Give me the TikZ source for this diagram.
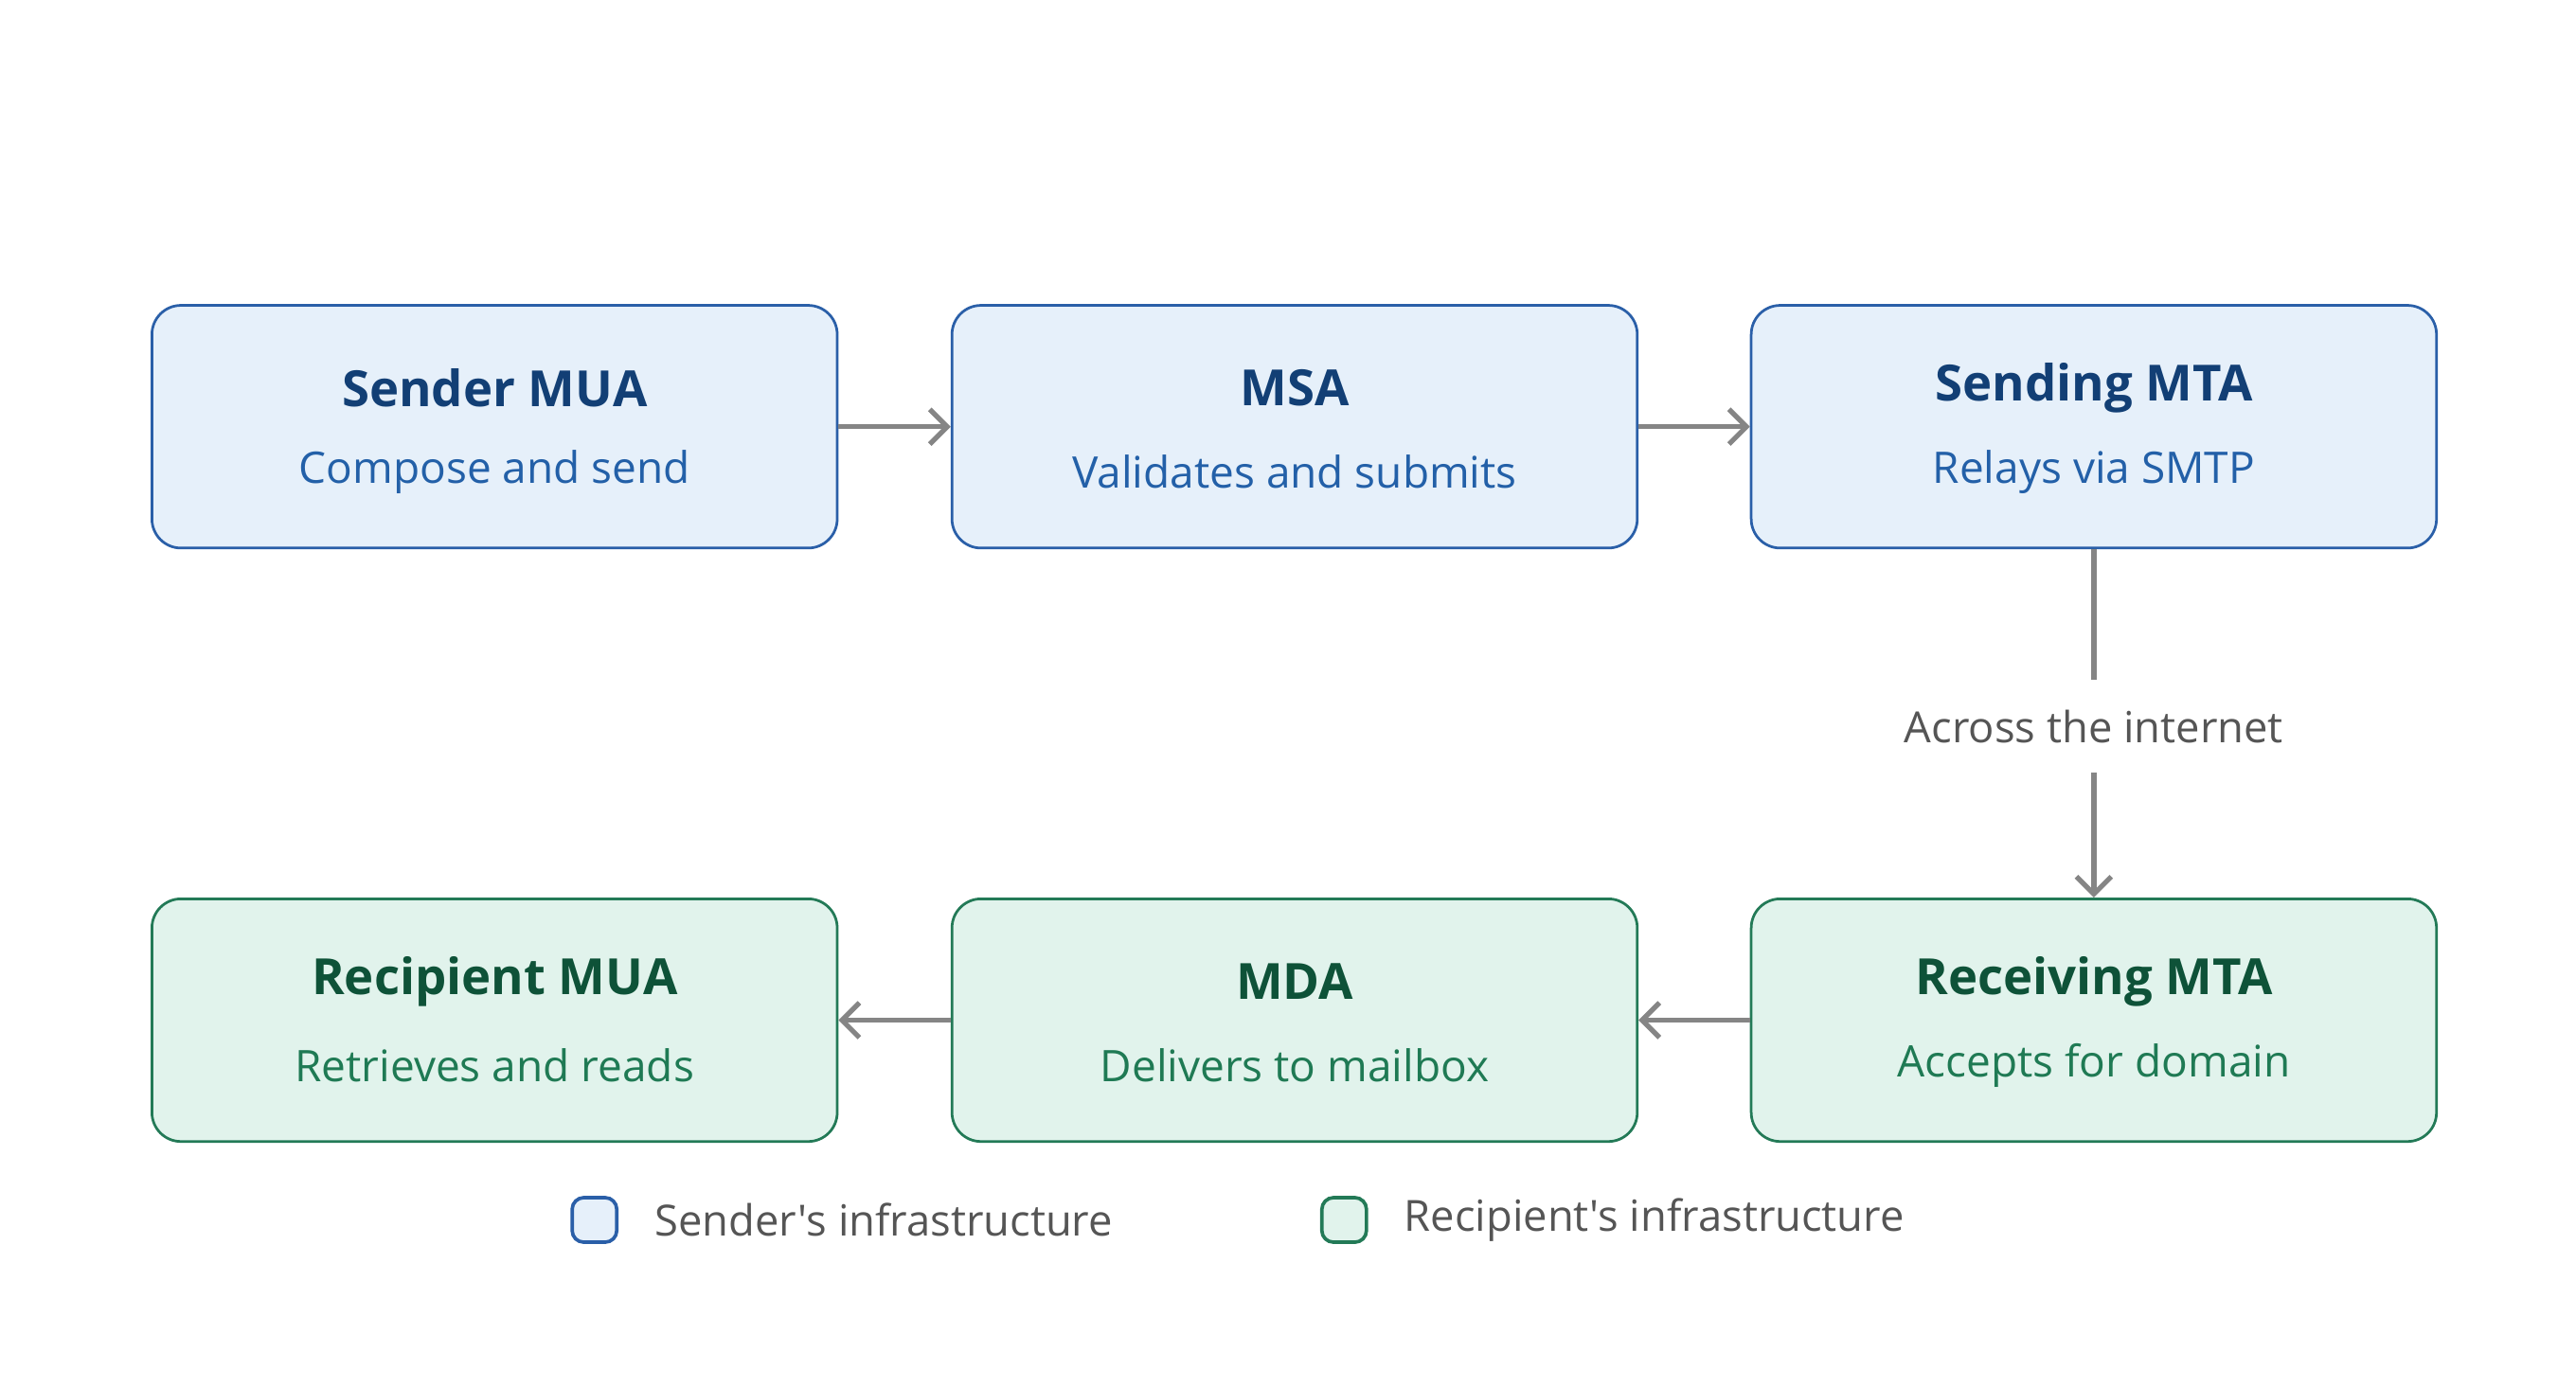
\documentclass[tikz,border=0pt]{standalone}
\usepackage{fontspec}
\setmainfont{Open Sans}[Ligatures=TeXOff]
\usepackage{tikz}
\usetikzlibrary{positioning, arrows.meta}
\definecolor{sndfill}{HTML}{E6F0FA}
\definecolor{sndline}{HTML}{2A5FA8}
\definecolor{sndtitle}{HTML}{123F75}
\definecolor{sndsub}{HTML}{2360A8}
\definecolor{rcvfill}{HTML}{E1F3EC}
\definecolor{rcvline}{HTML}{237A57}
\definecolor{rcvtitle}{HTML}{0E5238}
\definecolor{rcvsub}{HTML}{1F7A54}
\definecolor{flowgray}{HTML}{858585}
\definecolor{labelgray}{HTML}{555555}
\tikzset{
  agent/.style={draw, rounded corners=5pt, line width=0.45pt, minimum width=4.15cm, minimum height=1.47cm},
  sender/.style={agent, fill=sndfill, draw=sndline},
  receiver/.style={agent, fill=rcvfill, draw=rcvline},
  flow/.style={draw=flowgray, line width=0.85pt, -{Straight Barb[length=3pt,width=6pt]}},
  swatch/.style={draw, rounded corners=2pt, line width=0.6pt, minimum size=0.27cm, inner sep=0pt},
  titletext/.style={font=\fontsize{8.6}{10}\selectfont\bfseries},
  subtext/.style={font=\fontsize{7.5}{9}\selectfont},
  graytext/.style={text=labelgray, font=\fontsize{7.4}{9}\selectfont}
}
\begin{document}
\begin{tikzpicture}
  \useasboundingbox (0,0) rectangle (15.6,8.4);
  % top row
  \node[sender] (smua) at (2.995,5.815) {};
  \node[sender] (msa) at (7.84,5.815) {};
  \node[sender] (smta) at (12.68,5.815) {};
  % bottom row
  \node[receiver] (rmua) at (2.995,2.22) {};
  \node[receiver] (mda) at (7.84,2.22) {};
  \node[receiver] (rmta) at (12.68,2.22) {};
  % titles and subtitles
  \foreach \n/\t/\s in {smua/Sender MUA/Compose and send, msa/MSA/Validates and submits, smta/Sending MTA/Relays via SMTP}{
    \node[titletext, text=sndtitle] at ([yshift=0.235cm]\n.center) {\t};
    \node[subtext, text=sndsub] at ([yshift=-0.275cm]\n.center) {\s};
  }
  \foreach \n/\t/\s in {rmua/Recipient MUA/Retrieves and reads, mda/MDA/Delivers to mailbox, rmta/Receiving MTA/Accepts for domain}{
    \node[titletext, text=rcvtitle] at ([yshift=0.235cm]\n.center) {\t};
    \node[subtext, text=rcvsub] at ([yshift=-0.275cm]\n.center) {\s};
  }
  % connectors
  \draw[flow] (smua) -- (msa);
  \draw[flow] (msa) -- (smta);
  \node[graytext, inner sep=5pt] (net) at (12.68,4.0) {Across the internet};
  \draw[flow, -] (smta) -- (net);
  \draw[flow] (net) -- (rmta);
  \draw[flow] (rmta) -- (mda);
  \draw[flow] (mda) -- (rmua);
  % legend
  \node[swatch, fill=sndfill, draw=sndline] (lsnd) at (3.6,1.01) {};
  \node[graytext, anchor=west] at (3.84,1.01) {Sender's infrastructure};
  \node[swatch, fill=rcvfill, draw=rcvline] (lrcv) at (8.14,1.01) {};
  \node[graytext, anchor=west] at (8.38,1.01) {Recipient's infrastructure};
\end{tikzpicture}
\end{document}
